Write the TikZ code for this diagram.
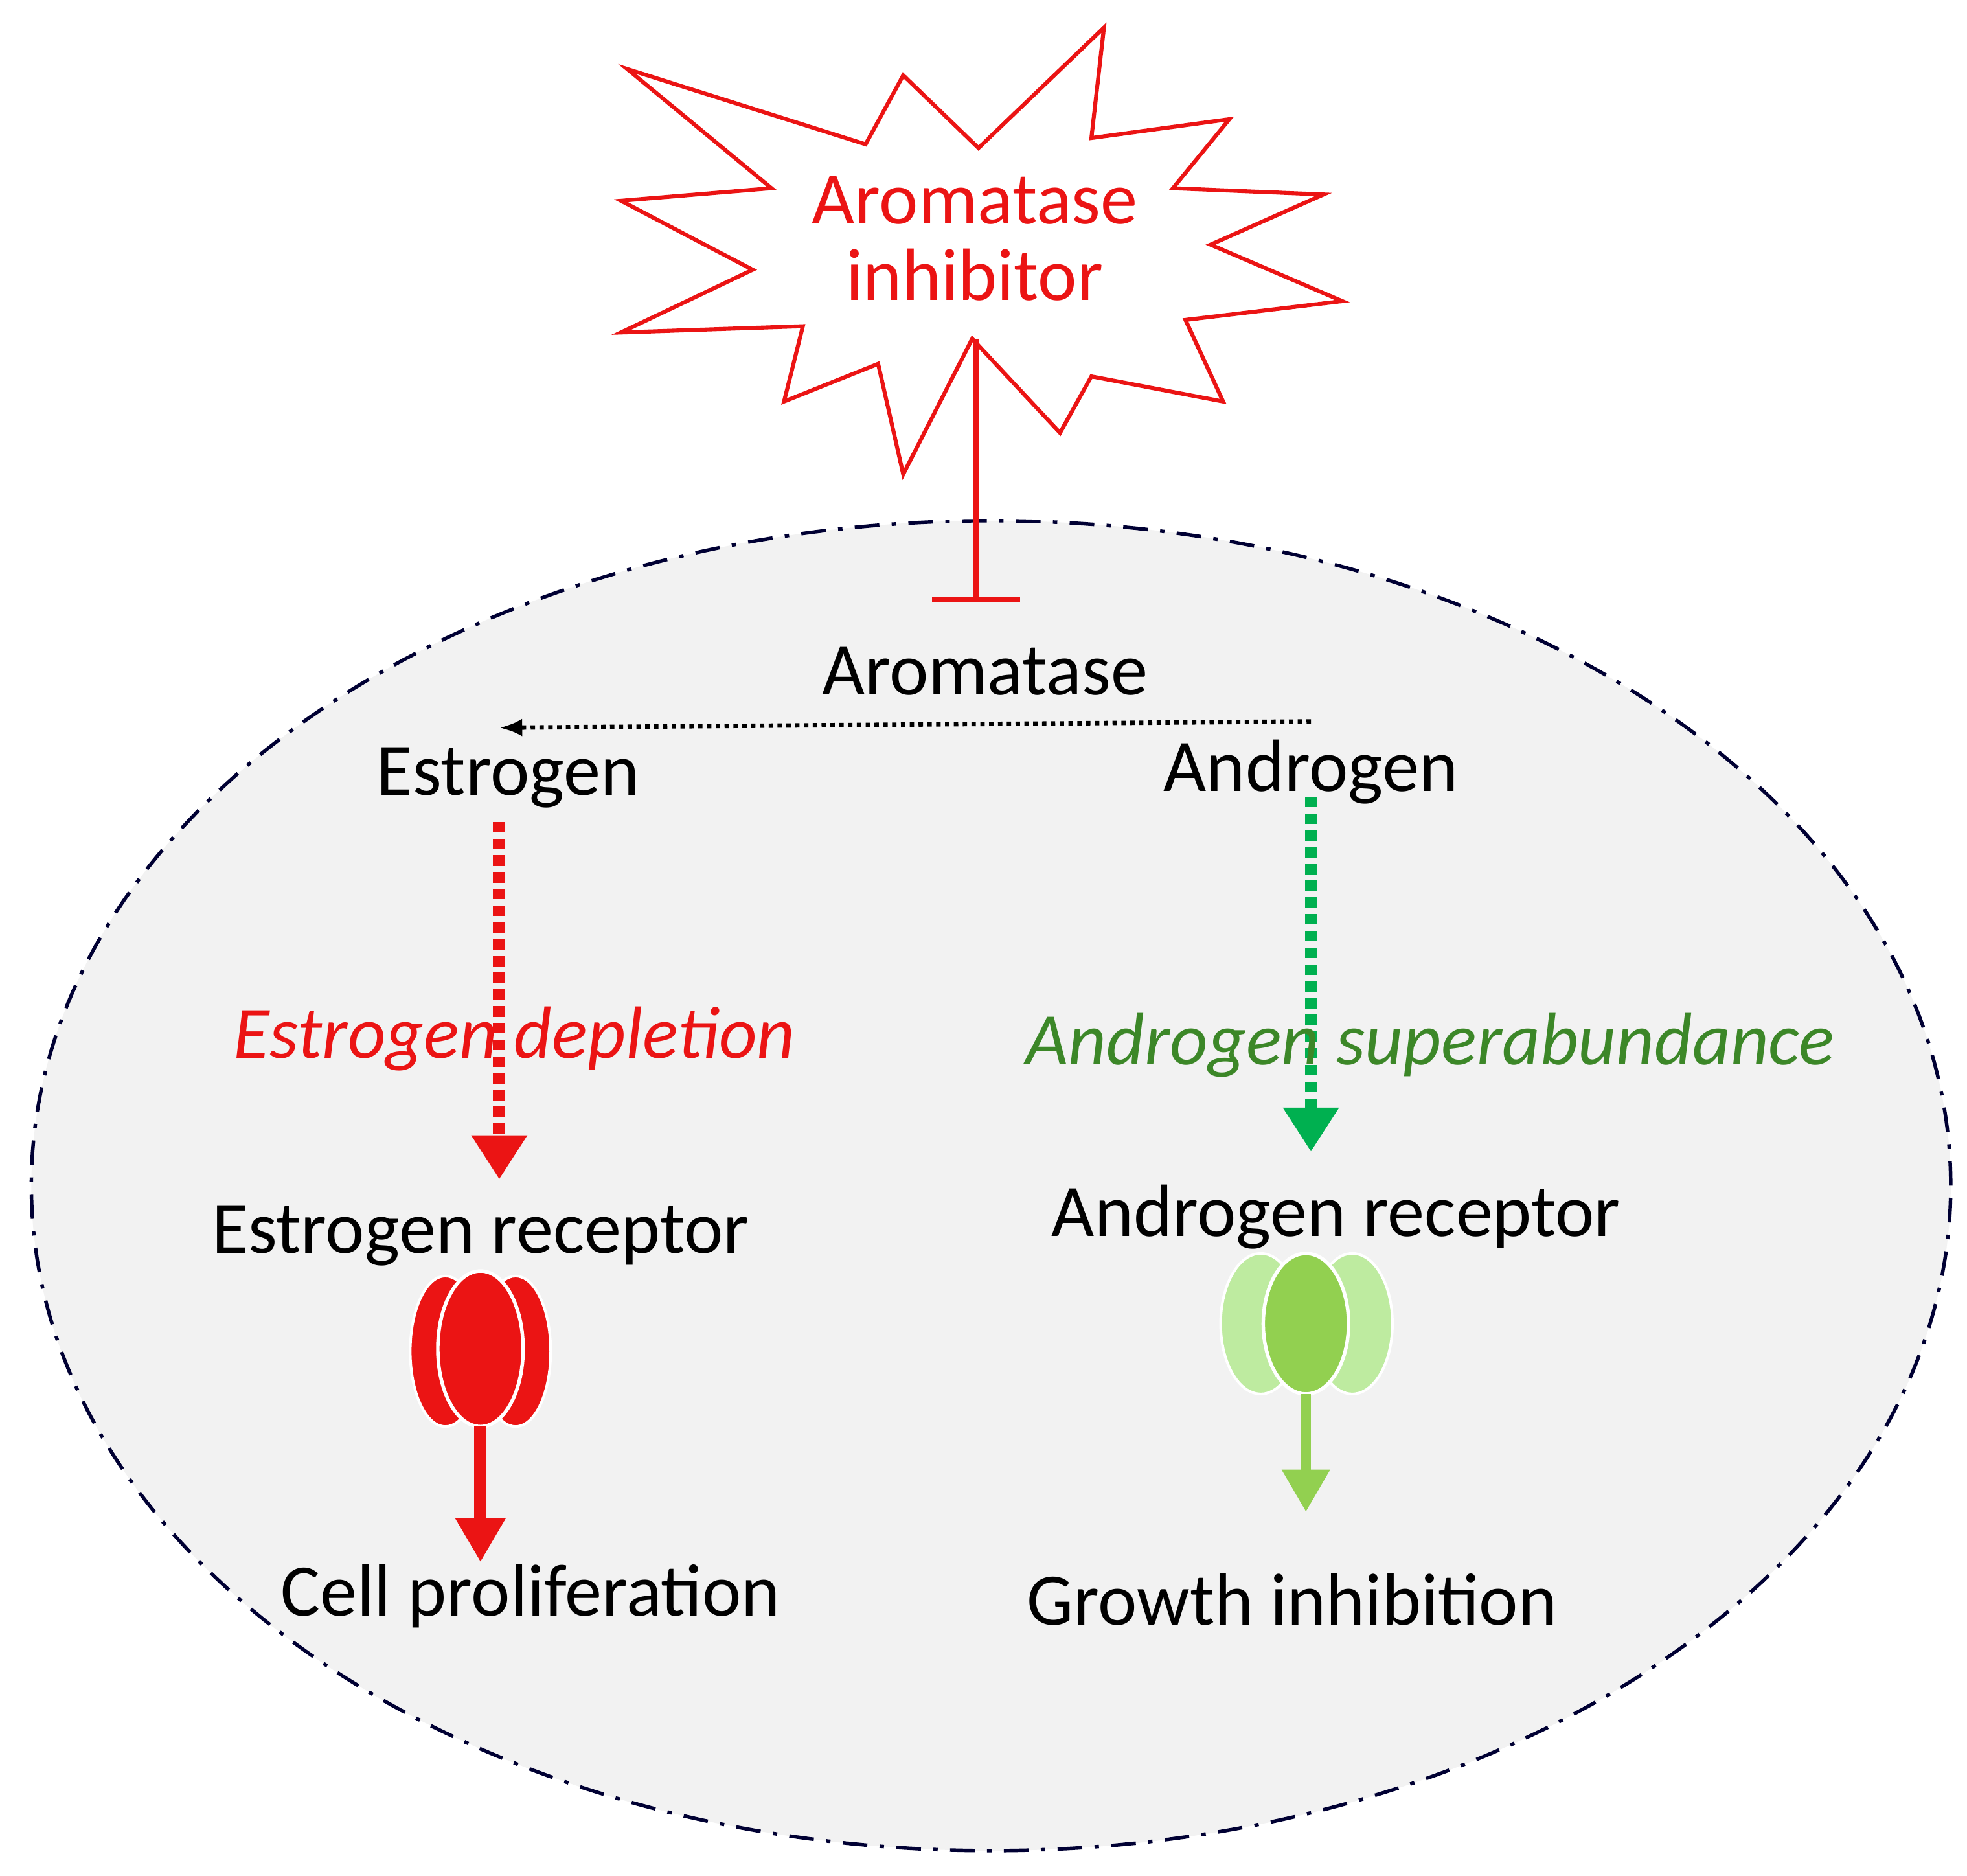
\documentclass[tikz,border=0pt]{standalone}
\usepackage{fontspec}
\setmainfont{Carlito}
\usetikzlibrary{arrows.meta,shapes.geometric}
\definecolor{ared}{RGB}{235,20,20}
\definecolor{agreen}{RGB}{0,176,80}
\definecolor{tgreen}{RGB}{60,135,40}
\definecolor{lgreen}{RGB}{190,235,160}
\definecolor{mgreen}{RGB}{146,208,80}
\tikzset{
 lbl/.style={font=\fontsize{84}{95}\selectfont},
 lbli/.style={lbl,font=\fontsize{84}{95}\selectfont\itshape},
}
\begin{document}
\begin{tikzpicture}[x=0.05cm,y=-0.05cm]
\useasboundingbox (0,0) rectangle (1568,1495);
\fill[white] (0,0) rectangle (1568,1495);
% cell
\node[draw=black!80!blue,fill=black!5,line width=4pt,dash pattern=on 28pt off 14pt on 5pt off 14pt,ellipse,minimum width=1530*0.05cm,minimum height=1060*0.05cm,inner sep=0] (cell) at (790,945) {};
% star
\draw[ared,line width=4.5pt,line join=miter] (500,55)--(690,115)--(720,60)--(780,118)--(880,22)--(870,110)--(980,95)--(935,150)--(1055,155)--(965,195)--(1070,240)--(945,255)--(975,320)--(870,300)--(845,345)--(775,270)--(720,378)--(700,290)--(625,320)--(640,260)--(495,265)--(600,215)--(495,160)--(615,150)--cycle;
\node[lbl,text=ared,align=center] (ai) at (777,190) {Aromatase\\[-8pt]inhibitor};
\coordinate (ibot) at (778,270);
\coordinate (itip) at (778,480);
\draw[ared,line width=6pt,-{Bar[width=100pt]}] (ibot)--(itip);
\node[lbl] (arom) at (785,535) {Aromatase};
\node[lbl] (estr) at (405,620) {Estrogen};
\node[lbl] (andr) at (1045,615) {Androgen};
\coordinate (ds) at (1045,575);
\coordinate (de) at (398,580);
\draw[line width=5pt,dash pattern=on 5pt off 5pt,-{Latex[length=26pt,width=20pt]}] (ds)--(de);
\draw[ared,line width=14pt,dash pattern=on 12pt off 7pt,-{Triangle[length=50pt,width=60pt]}] (398,655)--(398,940);
\draw[agreen,line width=14pt,dash pattern=on 12pt off 7pt,-{Triangle[length=50pt,width=60pt]}] (1045,635)--(1045,918);
\node[lbli,text=ared] (dep) at (410,828) {Estrogen depletion};
\node[lbli,text=tgreen] (sup) at (1140,833) {Androgen superabundance};
\node[lbl] (er) at (383,985) {Estrogen receptor};
\node[lbl] (arr) at (1065,970) {Androgen receptor};
% estrogen receptor
\fill[ared,draw=white,line width=3pt] (355,1077) ellipse [x radius=28,y radius=60];
\fill[ared,draw=white,line width=3pt] (411,1077) ellipse [x radius=28,y radius=60];
\fill[ared,draw=white,line width=4pt] (383,1075) ellipse [x radius=34,y radius=62];
\draw[ared,line width=14pt,-{Triangle[length=50pt,width=54pt]}] (383,1137)--(383,1245);
\node[lbl] (cp) at (423,1272) {Cell proliferation};
% androgen receptor
\fill[lgreen,draw=white,line width=3pt] (1005,1055) ellipse [x radius=32,y radius=56];
\fill[lgreen,draw=white,line width=3pt] (1078,1055) ellipse [x radius=32,y radius=56];
\fill[mgreen,draw=white,line width=4pt] (1041,1055) ellipse [x radius=34,y radius=56];
\draw[mgreen,line width=11pt,-{Triangle[length=48pt,width=52pt]}] (1041,1111)--(1041,1205);
\node[lbl] (gi) at (1030,1275) {Growth inhibition};
\end{tikzpicture}
\end{document}
